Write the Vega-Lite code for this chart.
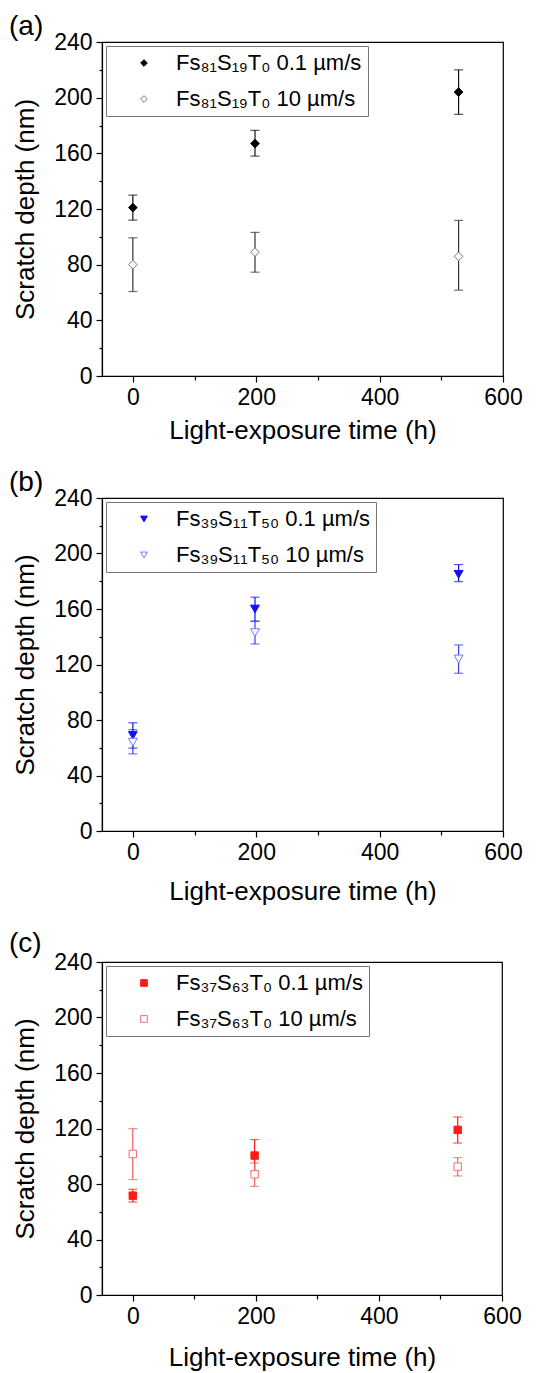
{
  "$schema": "https://vega.github.io/schema/vega-lite/v6.json",
  "padding": {"left": 8, "top": 12, "right": 5, "bottom": 0},
  "spacing": 24,
  "resolve": {
    "scale": {"color": "independent", "fill": "independent", "stroke": "independent", "shape": "independent"},
    "legend": {"color": "independent", "fill": "independent", "stroke": "independent", "shape": "independent"}
  },
  "datasets": {
    "a": [
      {"t": 0, "d": 121, "lo": 112, "hi": 130, "s": "Fs₈₁S₁₉T₀ 0.1 µm/s"},
      {"t": 198, "d": 167, "lo": 158, "hi": 176.5, "s": "Fs₈₁S₁₉T₀ 0.1 µm/s"},
      {"t": 528, "d": 204, "lo": 188, "hi": 220, "s": "Fs₈₁S₁₉T₀ 0.1 µm/s"},
      {"t": 0, "d": 80, "lo": 60.7, "hi": 99.3, "s": "Fs₈₁S₁₉T₀ 10 µm/s"},
      {"t": 198, "d": 89, "lo": 74.6, "hi": 103.2, "s": "Fs₈₁S₁₉T₀ 10 µm/s"},
      {"t": 528, "d": 86, "lo": 61.7, "hi": 111.8, "s": "Fs₈₁S₁₉T₀ 10 µm/s"}
    ],
    "b": [
      {"t": 0, "d": 69, "lo": 59.7, "hi": 78, "s": "Fs₃₉S₁₁T₅₀ 0.1 µm/s"},
      {"t": 198, "d": 160, "lo": 151.2, "hi": 168.5, "s": "Fs₃₉S₁₁T₅₀ 0.1 µm/s"},
      {"t": 528, "d": 185, "lo": 179.7, "hi": 192, "s": "Fs₃₉S₁₁T₅₀ 0.1 µm/s"},
      {"t": 0, "d": 64, "lo": 55.6, "hi": 73.1, "s": "Fs₃₉S₁₁T₅₀ 10 µm/s"},
      {"t": 198, "d": 143, "lo": 134.8, "hi": 151.2, "s": "Fs₃₉S₁₁T₅₀ 10 µm/s"},
      {"t": 528, "d": 124, "lo": 113.7, "hi": 134.1, "s": "Fs₃₉S₁₁T₅₀ 10 µm/s"}
    ],
    "c": [
      {"t": 0, "d": 71.6, "lo": 67, "hi": 76.2, "s": "Fs₃₇S₆₃T₀ 0.1 µm/s"},
      {"t": 198, "d": 100.5, "lo": 89, "hi": 112, "s": "Fs₃₇S₆₃T₀ 0.1 µm/s"},
      {"t": 528, "d": 119, "lo": 109.5, "hi": 128.3, "s": "Fs₃₇S₆₃T₀ 0.1 µm/s"},
      {"t": 0, "d": 101.6, "lo": 83.2, "hi": 119.9, "s": "Fs₃₇S₆₃T₀ 10 µm/s"},
      {"t": 198, "d": 87, "lo": 78.3, "hi": 95.1, "s": "Fs₃₇S₆₃T₀ 10 µm/s"},
      {"t": 528, "d": 92.5, "lo": 85.8, "hi": 99, "s": "Fs₃₇S₆₃T₀ 10 µm/s"}
    ]
  },
  "vconcat": [
    {
      "title": {"text": "(a)", "offset": -10},
      "width": 401,
      "height": 334,
      "data": {"name": "a"},
      "resolve": {"axis": {"x": "independent", "y": "independent"}},
      "layer": [
        {
          "mark": {"type": "errorbar", "ticks": {"size": 9}, "thickness": 1.2},
          "encoding": {
            "x": {"field": "t", "type": "quantitative", "scale": {"domain": [-50, 600], "nice": false, "zero": false}, "axis": {"values": [0, 200, 400, 600], "title": "Light-exposure time (h)", "titlePadding": 8, "labelFlush": false}},
            "y": {"field": "lo", "type": "quantitative", "scale": {"domain": [0, 240], "nice": false}, "axis": {"values": [0, 40, 80, 120, 160, 200, 240], "title": "Scratch depth (nm)"}},
            "y2": {"field": "hi"},
            "color": {"field": "s", "type": "nominal", "scale": {"range": ["#111111", "#333333"]}, "legend": null}
          }
        },
        {
          "mark": {"type": "point", "opacity": 1, "strokeWidth": 1},
          "encoding": {
            "x": {"field": "t", "type": "quantitative", "axis": {"orient": "bottom", "values": [100, 300, 500], "labels": false, "domain": false, "tickSize": 4, "title": null}},
            "y": {"field": "d", "type": "quantitative", "axis": {"orient": "left", "values": [20, 60, 100, 140, 180, 220], "labels": false, "domain": false, "tickSize": 3, "title": null}},
            "shape": {"field": "s", "type": "nominal", "scale": {"range": ["diamond", "diamond"]}, "legend": {"title": null}},
            "fill": {"field": "s", "type": "nominal", "scale": {"range": ["#000000", "#ffffff"]}, "legend": {"title": null}},
            "stroke": {"field": "s", "type": "nominal", "scale": {"range": ["#000000", "#777777"]}, "legend": {"title": null}},
            "size": {"value": 75}
          }
        }
      ]
    },
    {
      "title": {"text": "(b)", "offset": -10},
      "width": 401,
      "height": 333,
      "data": {"name": "b"},
      "resolve": {"axis": {"x": "independent", "y": "independent"}},
      "layer": [
        {
          "mark": {"type": "errorbar", "ticks": {"size": 9}, "thickness": 1.2},
          "encoding": {
            "x": {"field": "t", "type": "quantitative", "scale": {"domain": [-50, 600], "nice": false, "zero": false}, "axis": {"values": [0, 200, 400, 600], "title": "Light-exposure time (h)", "titlePadding": 14, "labelFlush": false}},
            "y": {"field": "lo", "type": "quantitative", "scale": {"domain": [0, 240], "nice": false}, "axis": {"values": [0, 40, 80, 120, 160, 200, 240], "title": "Scratch depth (nm)"}},
            "y2": {"field": "hi"},
            "color": {"field": "s", "type": "nominal", "scale": {"range": ["#1010ff", "#3a3aff"]}, "legend": null}
          }
        },
        {
          "mark": {"type": "point", "opacity": 1, "strokeWidth": 1},
          "encoding": {
            "x": {"field": "t", "type": "quantitative", "axis": {"orient": "bottom", "values": [100, 300, 500], "labels": false, "domain": false, "tickSize": 4, "title": null}},
            "y": {"field": "d", "type": "quantitative", "axis": {"orient": "left", "values": [20, 60, 100, 140, 180, 220], "labels": false, "domain": false, "tickSize": 3, "title": null}},
            "shape": {"field": "s", "type": "nominal", "scale": {"range": ["triangle-down", "triangle-down"]}, "legend": {"title": null}},
            "fill": {"field": "s", "type": "nominal", "scale": {"range": ["#1010ff", "#ffffff"]}, "legend": {"title": null}},
            "stroke": {"field": "s", "type": "nominal", "scale": {"range": ["#1010ff", "#7777ff"]}, "legend": {"title": null}},
            "size": {"value": 80}
          }
        }
      ]
    },
    {
      "title": {"text": "(c)", "offset": -7},
      "width": 400,
      "height": 333,
      "data": {"name": "c"},
      "resolve": {"axis": {"x": "independent", "y": "independent"}},
      "layer": [
        {
          "mark": {"type": "errorbar", "ticks": {"size": 9}, "thickness": 1.2},
          "encoding": {
            "x": {"field": "t", "type": "quantitative", "scale": {"domain": [-50, 600], "nice": false, "zero": false}, "axis": {"values": [0, 200, 400, 600], "title": "Light-exposure time (h)", "titlePadding": 16, "labelFlush": false}},
            "y": {"field": "lo", "type": "quantitative", "scale": {"domain": [0, 240], "nice": false}, "axis": {"values": [0, 40, 80, 120, 160, 200, 240], "title": "Scratch depth (nm)"}},
            "y2": {"field": "hi"},
            "color": {"field": "s", "type": "nominal", "scale": {"range": ["#ff1a1a", "#f06060"]}, "legend": null}
          }
        },
        {
          "mark": {"type": "point", "opacity": 1, "strokeWidth": 1},
          "encoding": {
            "x": {"field": "t", "type": "quantitative", "axis": {"orient": "bottom", "values": [100, 300, 500], "labels": false, "domain": false, "tickSize": 4, "title": null}},
            "y": {"field": "d", "type": "quantitative", "axis": {"orient": "left", "values": [20, 60, 100, 140, 180, 220], "labels": false, "domain": false, "tickSize": 3, "title": null}},
            "shape": {"field": "s", "type": "nominal", "scale": {"range": ["square", "square"]}, "legend": {"title": null}},
            "fill": {"field": "s", "type": "nominal", "scale": {"range": ["#ff1a1a", "#ffffff"]}, "legend": {"title": null}},
            "stroke": {"field": "s", "type": "nominal", "scale": {"range": ["#ff1a1a", "#f07070"]}, "legend": {"title": null}},
            "size": {"value": 55}
          }
        }
      ]
    }
  ],
  "config": {
    "font": "Liberation Sans",
    "view": {"stroke": "#000000", "strokeWidth": 1.2},
    "axis": {
      "labelFont": "Liberation Sans", "labelFontSize": 23, "labelColor": "#000000",
      "titleFont": "Liberation Sans", "titleFontSize": 26, "titleFontWeight": "normal", "titleColor": "#000000",
      "domainColor": "#000000", "tickColor": "#000000", "grid": false, "tickSize": 6,
      "labelPadding": 4, "domainWidth": 1.2, "tickWidth": 1.2
    },
    "axisY": {"titlePadding": 15},
    "legend": {
      "orient": "top-left", "offset": 4, "strokeColor": "#777777", "fillColor": "#ffffff",
      "padding": 6, "labelFontSize": 22, "labelFont": "Liberation Sans", "labelColor": "#000000",
      "symbolSize": 45, "symbolOffset": 21, "labelOffset": 21, "rowPadding": 14, "symbolStrokeWidth": 1, "labelLimit": 400
    },
    "title": {"fontSize": 28, "fontWeight": "normal", "font": "Liberation Sans", "anchor": "start", "frame": "group", "dx": -93, "color": "#000000"}
  }
}
